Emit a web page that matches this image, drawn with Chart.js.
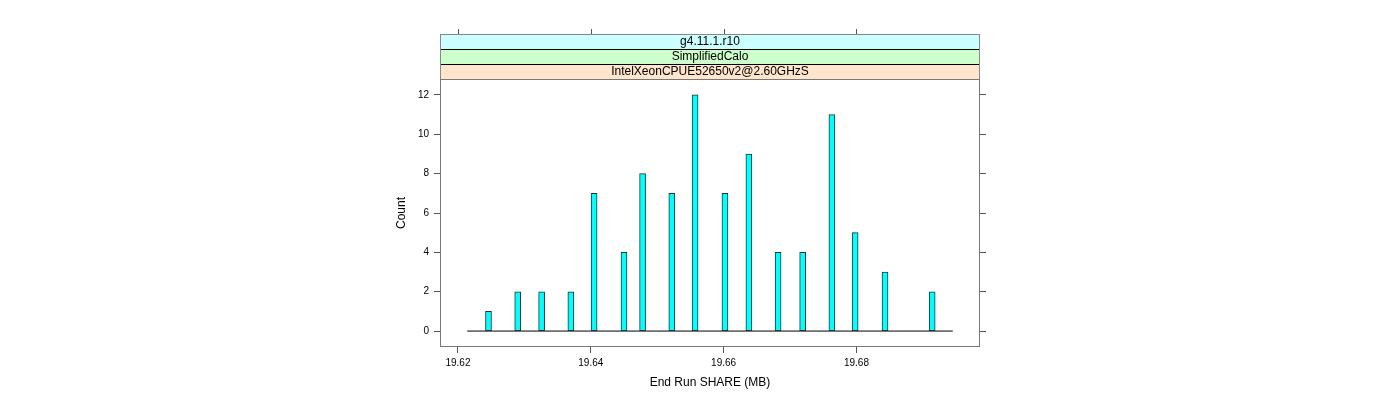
<html>
<head>
<style>
  body { margin: 0; background: #ffffff; }
</style>
</head>
<body>

    <canvas id="myChartShare" width="1400" height="400"></canvas>

    <script src="https://cdn.jsdelivr.net/npm/chart.js"></script>

    <script>
        // datos
        const shareMB = [19.6246, 19.6290, 19.6326, 19.6370, 19.6405, 19.6450, 19.6478, 19.6522, 19.6557,
                         19.6602, 19.6638, 19.6682, 19.6719, 19.6763, 19.6798, 19.6843, 19.6914]
        const counts = [1, 2, 2, 2, 7, 4, 8, 7, 12, 7, 9, 4, 4, 11, 5, 3, 2]
        const baseLineX = [19.6214, 19.6945]
        const xTicks = [19.62, 19.64, 19.66, 19.68]
        const yTicks = [0, 2, 4, 6, 8, 10, 12]
        const stripLabels = ['g4.11.1.r10', 'SimplifiedCalo', 'IntelXeonCPUE52650v2@2.60GHzS']
        const stripColors = ['#ccffff', '#ccffcc', '#ffe5cc']

        const FONT = '"Liberation Sans", Arial, sans-serif'

        // cajas de texto arriba del panel + marcas superiores + borde
        const panelDecor = {
            id: 'panelDecor',
            afterDraw(chart) {
                const ctx = chart.ctx
                const a = chart.chartArea
                const xs = chart.scales.x
                const stripH = 15
                const top = a.top - stripH * stripLabels.length
                ctx.save()
                for (let i = 0; i < stripLabels.length; i++) {
                    const y = top + i * stripH
                    ctx.fillStyle = stripColors[i]
                    ctx.fillRect(a.left, y, a.right - a.left, stripH)
                    ctx.fillStyle = '#000'
                    ctx.font = '12px ' + FONT
                    ctx.textAlign = 'center'
                    ctx.textBaseline = 'middle'
                    ctx.fillText(stripLabels[i], (a.left + a.right) / 2, y + stripH / 2 + 0.5)
                }
                // separadores
                ctx.strokeStyle = '#000'
                ctx.lineWidth = 1
                for (let i = 1; i <= stripLabels.length; i++) {
                    const y = Math.round(top + i * stripH) + 0.5
                    ctx.beginPath()
                    ctx.moveTo(a.left, y)
                    ctx.lineTo(a.right, y)
                    ctx.stroke()
                }
                ctx.strokeStyle = '#888'
                ctx.strokeRect(Math.round(a.left) + 0.5, Math.round(top) + 0.5, Math.round(a.right - a.left) - 1, stripH * stripLabels.length)
                // marcas de arriba
                ctx.strokeStyle = '#555'
                xTicks.forEach(v => {
                    const px = Math.round(xs.getPixelForValue(v)) + 0.5
                    ctx.beginPath()
                    ctx.moveTo(px, top)
                    ctx.lineTo(px, top - 5)
                    ctx.stroke()
                })
                // borde del panel
                ctx.strokeStyle = '#777'
                ctx.strokeRect(Math.round(a.left) + 0.5, Math.round(a.top) + 0.5, Math.round(a.right - a.left) - 1, Math.round(a.bottom - a.top) - 1)
                ctx.restore()
            }
        }

        var ctxShare = document.getElementById('myChartShare')

        var myChartShare = new Chart(ctxShare, {
            data: {
                datasets: [{
                    type: 'line',
                    data: baseLineX.map(v => ({ x: v, y: 0 })),
                    borderColor: '#000',
                    borderWidth: 1,
                    pointRadius: 0,
                    order: 2
                }, {
                    type: 'bar',
                    data: shareMB.map((v, i) => ({ x: v, y: counts[i] })),
                    backgroundColor: '#00ffff',
                    borderColor: '#1f3333',
                    borderWidth: 1,
                    borderSkipped: false,
                    barThickness: 6,
                    order: 1
                }]
            },
            options: {
                responsive: false,
                animation: false,
                layout: { padding: { left: 390, right: 414, top: 79, bottom: 0 } },
                plugins: {
                    legend: { display: false },
                    tooltip: { enabled: false }
                },
                scales: {
                    x: {
                        type: 'linear',
                        position: 'bottom',
                        offset: false,
                        min: 19.6173,
                        max: 19.6986,
                        afterFit: s => { s.height = 53 },
                        afterBuildTicks: s => { s.ticks = xTicks.map(v => ({ value: v })) },
                        ticks: {
                            callback: v => v.toFixed(2),
                            font: { size: 10, family: FONT },
                            color: '#000',
                            padding: 4,
                            maxRotation: 0,
                            autoSkip: false
                        },
                        grid: { drawOnChartArea: false, tickLength: 6, color: '#555', offset: false },
                        border: { display: false },
                        title: {
                            display: true,
                            text: 'End Run SHARE (MB)',
                            font: { size: 12, family: FONT },
                            color: '#000',
                            padding: { top: 0, bottom: 10 }
                        }
                    },
                    y: {
                        position: 'left',
                        min: -0.81,
                        max: 12.81,
                        afterFit: s => { s.width = 50 },
                        afterBuildTicks: s => { s.ticks = yTicks.map(v => ({ value: v })) },
                        ticks: {
                            font: { size: 10, family: FONT },
                            color: '#000',
                            padding: 5
                        },
                        grid: { drawOnChartArea: false, tickLength: 6, color: '#555' },
                        border: { display: false },
                        title: {
                            display: true,
                            text: 'Count',
                            font: { size: 12, family: FONT },
                            color: '#000',
                            padding: { top: 4.5, bottom: 0 }
                        }
                    },
                    y2: {
                        position: 'right',
                        min: -0.81,
                        max: 12.81,
                        afterFit: s => { s.width = 6 },
                        afterBuildTicks: s => { s.ticks = yTicks.map(v => ({ value: v })) },
                        ticks: { display: false },
                        grid: { drawOnChartArea: false, tickLength: 6, color: '#555' },
                        border: { display: false }
                    }
                }
            },
            plugins: [panelDecor]
        })
    </script>
</body>
</html>
